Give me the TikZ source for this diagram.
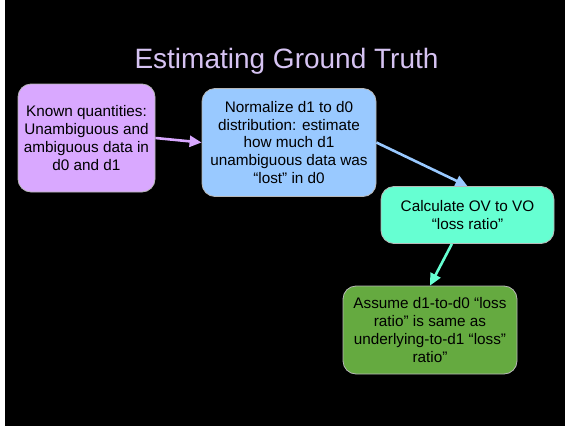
\documentclass[tikz,border=0pt]{standalone}
\usepackage{fontspec}
\setmainfont{Liberation Sans}
\usetikzlibrary{arrows.meta,calc}

\definecolor{titlecol}{HTML}{D6C3F2}
\definecolor{violetfill}{HTML}{D9A8FF}
\definecolor{bluefill}{HTML}{99C9FF}
\definecolor{tealfill}{HTML}{66FFD2}
\definecolor{greenfill}{HTML}{65AA40}
\definecolor{boxedge}{HTML}{B8B8B8}

\tikzset{
  stepbox/.style={draw=boxedge, line width=0.8pt, rounded corners=13pt,
    align=center, inner sep=0pt, font=\fontsize{15.3}{17.8}\selectfont,
    text=black},
  flow/.style={line width=2.6pt,
    -{Triangle[length=12pt,width=11pt]}, shorten >=0pt},
}

\begin{document}
\begin{tikzpicture}[x=1pt,y=-1pt]
  % page frame: narrow white strip on the left, black slide
  \useasboundingbox (0,0) rectangle (565,426);
  \fill[white] (0,0) rectangle (5,426);
  \fill[black] (5,0) rectangle (565,426);

  \node[text=titlecol, font=\fontsize{28}{32}\selectfont, anchor=base]
    (title) at (286.5,68.5) {Estimating Ground Truth};

  \node[stepbox, fill=violetfill, minimum width=137pt, minimum height=108pt]
    (known) at (86.5,138) {Known quantities:\\Unambiguous and\\ambiguous data in\\d0 and d1};

  \node[stepbox, fill=bluefill, minimum width=174pt, minimum height=108pt]
    (norm) at (289,142.5) {Normalize d1 to d0\\distribution: estimate\\how much d1\\unambiguous data was\\“lost” in d0};

  \node[stepbox, fill=tealfill, minimum width=173pt, minimum height=57pt]
    (calc) at (467.5,215) {Calculate OV to VO\\“loss ratio”};

  \node[stepbox, fill=greenfill, minimum width=174pt, minimum height=88pt]
    (assume) at (430,330) {Assume d1-to-d0 “loss\\ratio” is same as\\underlying-to-d1 “loss”\\ratio”};

  \draw[flow, violetfill] (known.east) -- (norm.west);
  \draw[flow, bluefill] (norm.east) -- (calc.north);
  \draw[flow, tealfill] ($(calc.south west)!0.41!(calc.south east)$) -- (assume.north);
\end{tikzpicture}
\end{document}
